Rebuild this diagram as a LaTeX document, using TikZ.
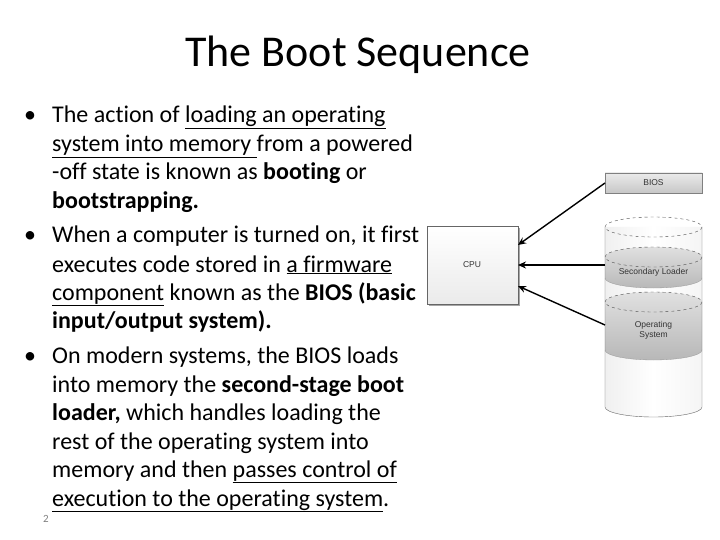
\documentclass[tikz,border=0pt]{standalone}
\usepackage{fontspec}
\setmainfont[Ligatures={NoCommon}]{Carlito}
\newfontfamily\diagfont{Liberation Sans}
\usetikzlibrary{arrows.meta}
\begin{document}
\begin{tikzpicture}[x=1pt,y=-1pt,
  body/.style={anchor=base west,inner sep=0pt,font=\fontsize{24}{24}\selectfont},
  bul/.style={anchor=base,inner sep=0pt,font=\fontsize{24}{24}\selectfont},
  lbl/.style={font=\diagfont\fontsize{8.5}{10}\selectfont,align=center,text=black!80},
  arr/.style={-{Stealth[length=8pt,width=7pt]},line width=1.4pt},
  dashell/.style={draw=black!70,dashed,line width=0.4pt}]
\useasboundingbox (0,0) rectangle (720,540);
\fill[white] (0,0) rectangle (720,540);
\node[anchor=base,inner sep=0pt,font=\fontsize{44}{44}\selectfont] (title) at (358,67) {The Boot Sequence};
% bullets
\node[bul] (b1) at (30,123) {\textbullet};
\node[bul] (b2) at (30,243) {\textbullet};
\node[bul] (b3) at (30,363) {\textbullet};
\node[body] (l1) at (52,123) {The action of \underline{loading an operating}};
\node[body] (l2) at (52,152) {\underline{system into memory }from a powered};
\node[body] (l3) at (52,180) {-off state is known as \textbf{booting} or};
\node[body] (l4) at (52,208) {\textbf{bootstrapping.}};
\node[body] (l5) at (52,243) {When a computer is turned on, it first};
\node[body] (l6) at (52,272) {executes code stored in \underline{a firmware}};
\node[body] (l7) at (52,300) {\underline{component} known as the \textbf{BIOS (basic}};
\node[body] (l8) at (52,328) {\textbf{input/output system).}};
\node[body] (l9) at (52,363) {On modern systems, the BIOS loads};
\node[body] (l10) at (52,392) {into memory the \textbf{second-stage boot}};
\node[body] (l11) at (52,420) {\textbf{loader,} which handles loading the};
\node[body] (l12) at (52,449) {rest of the operating system into};
\node[body] (l13) at (52,477) {memory and then \underline{passes control of}};
\node[body] (l14) at (52,506) {\underline{execution to the operating system}.};
\node[anchor=base,inner sep=0pt,text=black!50,font=\fontsize{11}{11}\selectfont] (pg) at (46,522) {2};
% CPU
\fill[black!35] (429,228) rectangle (520,306);
\shade[top color=white,bottom color=black!8,draw=black!60,line width=0.4pt] (427,226) rectangle (518,304);
\node[lbl] (cpu) at (472,265) {CPU};
\coordinate (cpuA) at (518,245);
\coordinate (cpuB) at (518,265);
\coordinate (cpuC) at (518,286);
% BIOS
\fill[black!45] (605,192) rectangle (703,194);
\shade[top color=black!8,bottom color=black!22,draw=black!50,line width=0.4pt] (605,173) rectangle (702,193);
\node[lbl] (bios) at (653.5,183) {BIOS};
% cylinder
\shade[left color=black!6,right color=black!4,middle color=white] (605,227) -- (605,407) arc[start angle=180,end angle=0,x radius=48.5,y radius=10] -- (702,227) -- cycle;
\shade[top color=black!12,bottom color=black!28] (605,257) -- (605,278) arc[start angle=180,end angle=0,x radius=48.5,y radius=10] -- (702,257) arc[start angle=0,end angle=-180,x radius=48.5,y radius=10] -- cycle;
\shade[top color=black!12,bottom color=black!28] (605,302) -- (605,350) arc[start angle=180,end angle=0,x radius=48.5,y radius=10] -- (702,302) arc[start angle=0,end angle=-180,x radius=48.5,y radius=10] -- cycle;
\draw[draw=black!60,line width=0.4pt] (605,227) -- (605,407) arc[start angle=180,end angle=0,x radius=48.5,y radius=10] -- (702,227);
\draw[dashell] (653.5,227) ellipse[x radius=48.5,y radius=10];
\draw[dashell] (653.5,257) ellipse[x radius=48.5,y radius=10];
\draw[dashell] (653.5,302) ellipse[x radius=48.5,y radius=10];
\draw[draw=black!40,line width=0.3pt] (605,278) arc[start angle=180,end angle=0,x radius=48.5,y radius=10];
\draw[draw=black!40,line width=0.3pt] (605,350) arc[start angle=180,end angle=0,x radius=48.5,y radius=10];
\node[lbl] (sec) at (653.5,272) {Secondary Loader};
\node[lbl] (os) at (653.5,330) {Operating\\System};
\coordinate (biosW) at (605,183);
\coordinate (secW) at (605,265);
\coordinate (osW) at (605,325);
\draw[arr] (biosW) -- (cpuA);
\draw[arr] (secW) -- (cpuB);
\draw[arr] (osW) -- (cpuC);
\end{tikzpicture}
\end{document}
